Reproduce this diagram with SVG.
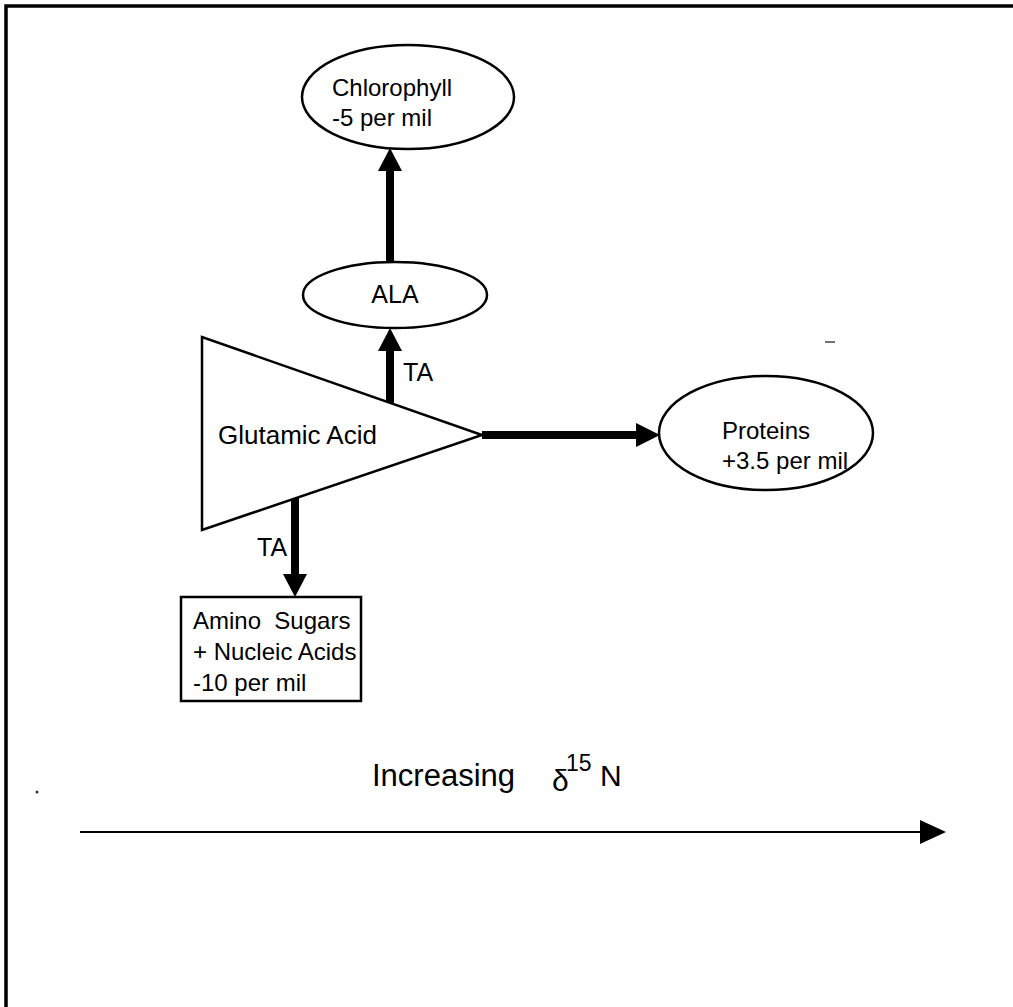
<svg xmlns="http://www.w3.org/2000/svg" width="1013" height="1007" viewBox="0 0 1013 1007">
<style>
.shape{fill:#fff;stroke:#000;stroke-width:2.5}
.t{font-family:"Liberation Sans",Arial,sans-serif;font-size:25px;fill:#000}
.s{font-size:24px}
.shaft{stroke:#000;stroke-width:8;fill:none}
.head{fill:#000}
</style>
<rect x="0" y="0" width="1013" height="1007" fill="#fff"/>
<g id="frame">
<path d="M6,1007 V6 H1013" fill="none" stroke="#000" stroke-width="3.5"/>
</g>
<g id="connectors">
<line class="shaft" x1="390" y1="262" x2="390" y2="168"/>
<polygon class="head" points="378,171 402,171 390,148"/>
<line class="shaft" x1="390" y1="404" x2="390" y2="348"/>
<polygon class="head" points="378,351 402,351 390,328"/>
<line class="shaft" x1="482" y1="435" x2="640" y2="435"/>
<polygon class="head" points="636,423 636,447 660,435"/>
<line class="shaft" x1="295" y1="498" x2="295" y2="577"/>
<polygon class="head" points="283,574 307,574 295,597"/>
<text class="t" x="403" y="381">TA</text>
<text class="t" x="257" y="556">TA</text>
</g>
<g id="chlorophyll">
<ellipse class="shape" cx="408" cy="97" rx="106" ry="52"/>
<text class="t s" x="332" y="96">Chlorophyll</text>
<text class="t s" x="332" y="126">-5 per mil</text>
</g>
<g id="ala">
<ellipse class="shape" cx="395" cy="295" rx="92" ry="33"/>
<text class="t" x="395" y="303" text-anchor="middle">ALA</text>
</g>
<g id="glutamic">
<polygon class="shape" points="202,337 202,530 482,435"/>
<text class="t" x="218" y="444" style="font-size:26px">Glutamic Acid</text>
</g>
<g id="proteins">
<ellipse class="shape" cx="766" cy="433" rx="107" ry="57"/>
<text class="t s" x="722" y="439">Proteins</text>
<text class="t s" x="722" y="469">+3.5 per mil</text>
</g>
<g id="amino">
<rect class="shape" x="181" y="597" width="180" height="104"/>
<text class="t s" x="193" y="629">Amino&#160; Sugars</text>
<text class="t s" x="193" y="660">+ Nucleic Acids</text>
<text class="t s" x="193" y="691">-10 per mil</text>
</g>
<g id="axis">
<text class="t" x="372" y="786" style="font-size:31px">Increasing</text>
<text class="t" x="552" y="791" style="font-size:30px">δ</text>
<text class="t" x="566" y="771" style="font-size:23px">15</text>
<text class="t" x="600" y="786" style="font-size:30px">N</text>
<line x1="80" y1="832" x2="925" y2="832" stroke="#000" stroke-width="2"/>
<polygon class="head" points="920,820 920,844 946,832"/>
</g>
<g id="marks">
<line x1="825" y1="342" x2="835" y2="342" stroke="#444" stroke-width="1.5"/>
<circle cx="37" cy="792" r="1.5" fill="#333"/>
</g>
</svg>
